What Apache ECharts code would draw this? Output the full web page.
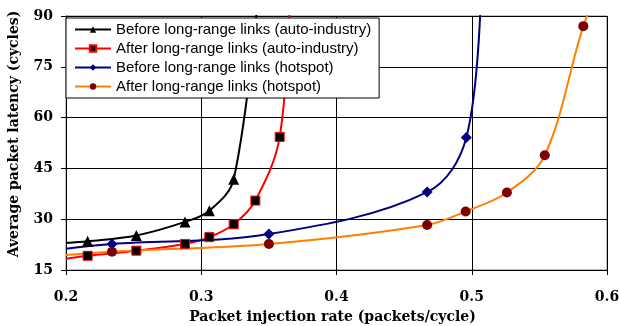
<!DOCTYPE html>
<html>
<head>
<meta charset="utf-8">
<script src="https://cdn.jsdelivr.net/npm/echarts@6/dist/echarts.min.js"></script>
<style>
html,body{margin:0;padding:0;background:#fff;}
#chart{width:619px;height:326px;}
</style>
</head>
<body>
<div id="chart"></div>
<script>
// Series names
var seriesNames = [
  'Before long-range links (auto-industry)',
  'After long-range links (auto-industry)',
  'Before long-range links (hotspot)',
  'After long-range links (hotspot)'
];
// Data points [injection rate, latency]; first/last points are off-marker curve ends
var beforeAuto = [[0.200, 23.0], [0.216, 23.5], [0.252, 25.2], [0.288, 29.2], [0.306, 32.5], [0.324, 41.8], [0.343, 100]];
var afterAuto  = [[0.200, 18.3], [0.216, 19.2], [0.252, 20.7], [0.288, 22.7], [0.306, 24.7], [0.324, 28.5], [0.340, 35.5], [0.358, 54.3], [0.366, 100]];
var beforeHot  = [[0.200, 21.3], [0.234, 22.7], [0.350, 25.6], [0.467, 38.0], [0.496, 54.1], [0.507, 100]];
var afterHot   = [[0.200, 19.4], [0.234, 20.4], [0.350, 22.7], [0.467, 28.3], [0.4955, 32.3], [0.526, 37.9], [0.554, 48.9], [0.5825, 87.0], [0.596, 100]];
var xTicks = [0.2, 0.3, 0.4, 0.5, 0.6];
var yTicks = [15, 30, 45, 60, 75, 90];

function withEnds(arr) {
  return arr.map(function (p, i) {
    if (i === 0 || i === arr.length - 1) {
      return { value: p, symbol: 'none' };
    }
    return { value: p };
  });
}

var chart = echarts.init(document.getElementById('chart'));
var serif = '"DejaVu Serif", "Liberation Serif", serif';
var sans = '"Liberation Sans", Arial, sans-serif';

chart.setOption({
  animation: false,
  backgroundColor: '#fff',
  grid: { left: 66, right: 12, top: 16, bottom: 56, show: true, borderColor: '#808080', borderWidth: 1,
          containLabel: false, outerBoundsMode: 'none' },
  legend: {
    orient: 'vertical',
    left: 66, top: 18,
    itemWidth: 36, itemHeight: 8,
    itemGap: 4,
    padding: [4, 8, 4, 8],
    backgroundColor: '#fff',
    borderColor: '#000',
    borderWidth: 1,
    borderRadius: 0,
    textStyle: { fontFamily: sans, fontSize: 15, color: '#000' },
    data: seriesNames
  },
  xAxis: {
    type: 'value', min: xTicks[0], max: xTicks[xTicks.length - 1], interval: 0.1,
    name: 'Packet injection rate (packets/cycle)',
    nameLocation: 'middle', nameGap: 40,
    nameTextStyle: { fontFamily: serif, fontWeight: 'bold', fontSize: 14, color: '#000', padding: [0, 8, 0, 0] },
    axisLine: { onZero: false, lineStyle: { color: '#000', width: 1 } },
    axisTick: { show: true, inside: false, length: 5, lineStyle: { color: '#000' } },
    axisLabel: { margin: 20, fontFamily: serif, fontWeight: 'bold', fontSize: 14, color: '#000',
      formatter: function (v) { return v.toFixed(1); } },
    splitLine: { show: true, lineStyle: { color: '#000', width: 1 } }
  },
  yAxis: {
    type: 'value', min: yTicks[0], max: yTicks[yTicks.length - 1], interval: 15,
    name: 'Average packet latency (cycles)',
    nameLocation: 'middle', nameGap: 45,
    nameTextStyle: { fontFamily: serif, fontWeight: 'bold', fontSize: 14, color: '#000', padding: [0, 0, 0, 18] },
    axisLine: { show: true, onZero: false, lineStyle: { color: '#000', width: 1 } },
    axisTick: { show: true, inside: false, length: 5, lineStyle: { color: '#000' } },
    axisLabel: { margin: 13, fontFamily: serif, fontWeight: 'bold', fontSize: 14, color: '#000' },
    splitLine: { show: true, lineStyle: { color: '#000', width: 1 } }
  },
  series: [
    {
      name: seriesNames[0], type: 'line', smooth: 0.35, clip: true,
      data: withEnds(beforeAuto),
      symbol: 'triangle', symbolSize: 11,
      lineStyle: { color: '#000', width: 2 },
      itemStyle: { color: '#000', borderColor: '#000', borderWidth: 0 }
    },
    {
      name: seriesNames[1], type: 'line', smooth: 0.35, clip: true,
      data: withEnds(afterAuto),
      symbol: 'rect', symbolSize: 9,
      lineStyle: { color: '#ff0000', width: 2 },
      itemStyle: { color: '#000', borderColor: '#ff0000', borderWidth: 1 }
    },
    {
      name: seriesNames[2], type: 'line', smooth: 0.35, clip: true,
      data: withEnds(beforeHot),
      symbol: 'diamond', symbolSize: 11,
      lineStyle: { color: '#000080', width: 2 },
      itemStyle: { color: '#000080', borderColor: '#000080', borderWidth: 0 }
    },
    {
      name: seriesNames[3], type: 'line', smooth: 0.35, clip: true,
      data: withEnds(afterHot),
      symbol: 'circle', symbolSize: 10,
      lineStyle: { color: '#ff8000', width: 2 },
      itemStyle: { color: '#800000', borderColor: '#800000', borderWidth: 0 }
    }
  ]
});
</script>
</body>
</html>
